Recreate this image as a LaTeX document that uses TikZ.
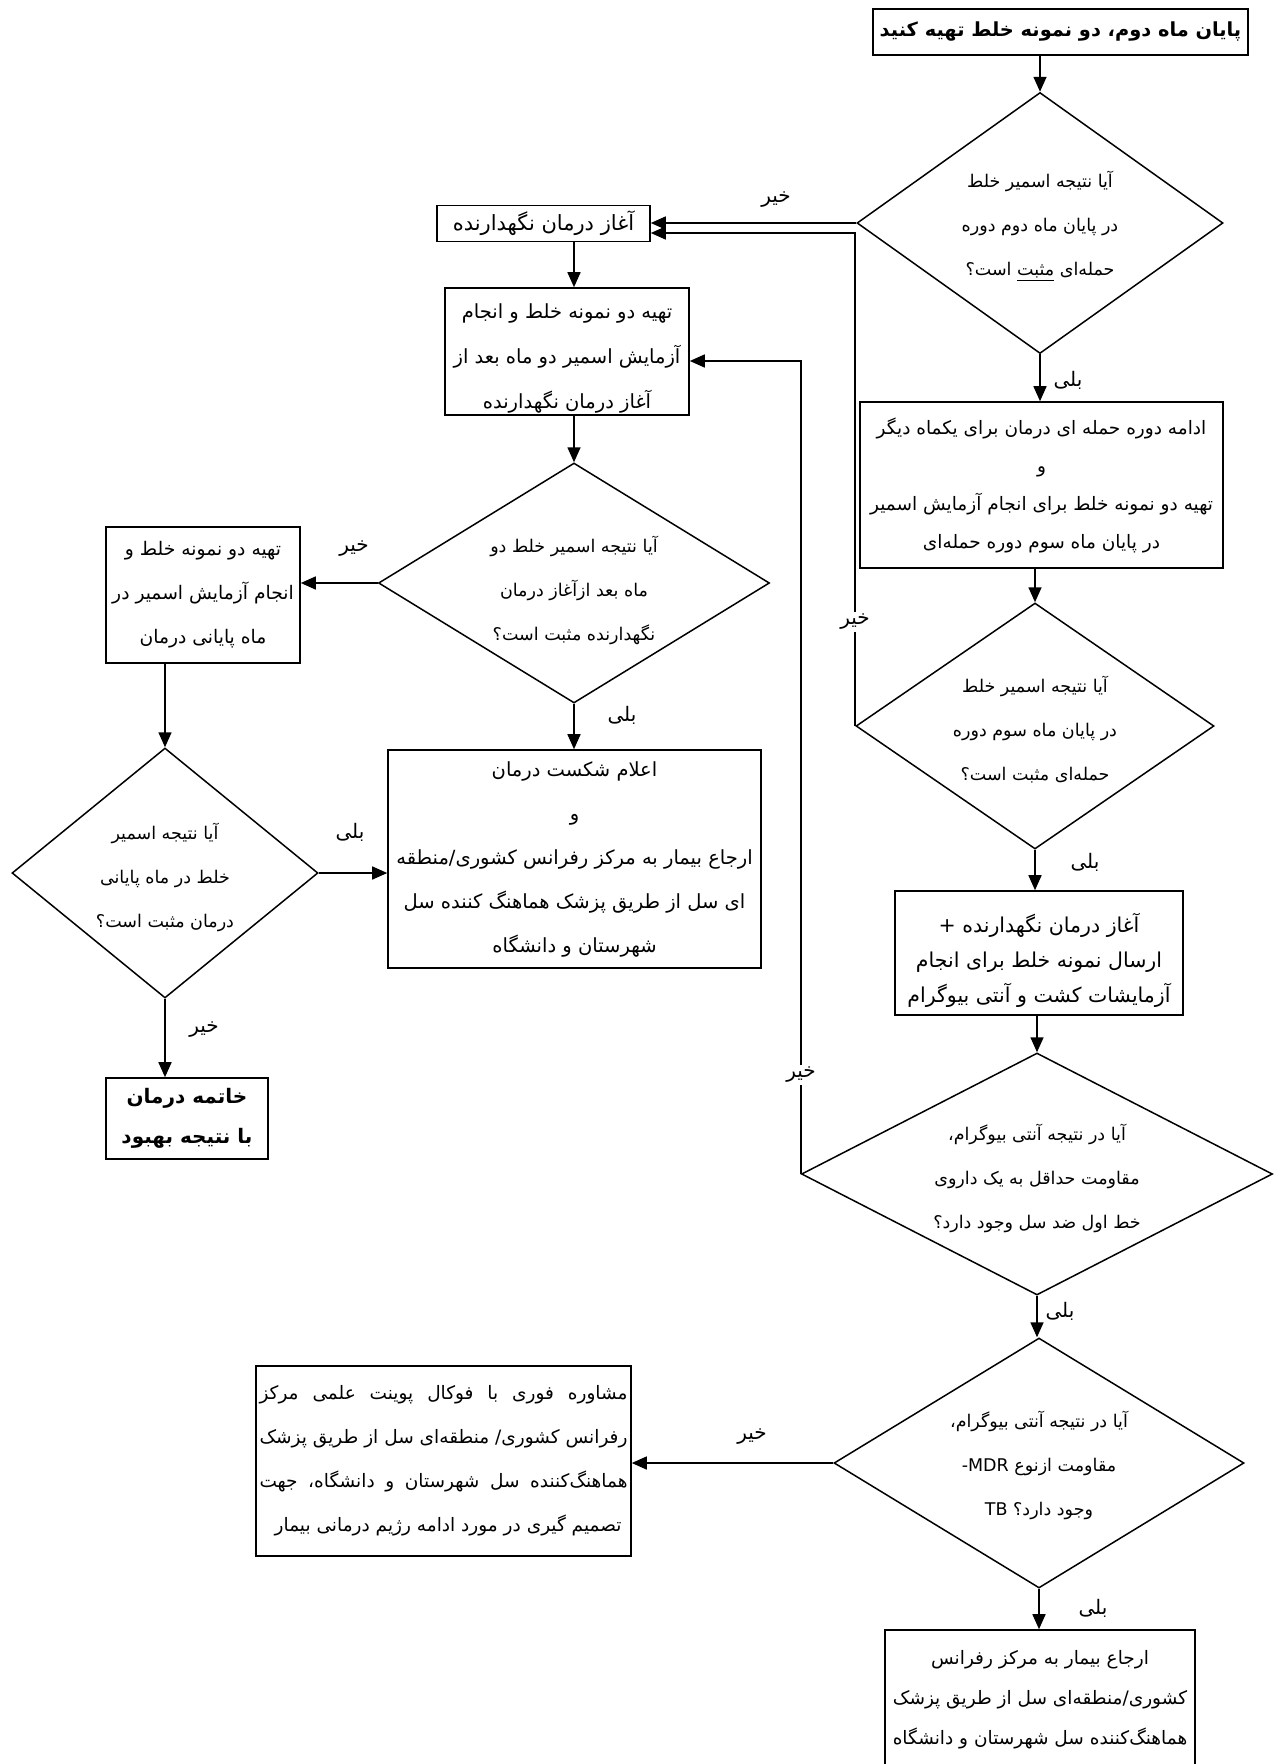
\documentclass[tikz,border=0pt]{standalone}
\usepackage{fontspec}
\setmainfont{DejaVu Sans}
\newfontfamily\arabicfont[Script=Arabic]{DejaVu Sans}
\usetikzlibrary{shapes.geometric,arrows.meta,calc}
\TeXXeTstate=1
\newcommand{\prs}[1]{\beginR #1\endR}
\newcommand{\zwnj}{\char"200C\relax}
\newcommand{\fsb}{\fontsize{19.5}{44}\selectfont}
\newcommand{\fsd}{\fontsize{17.5}{44}\selectfont}
\begin{document}
\begin{tikzpicture}[x=1pt,y=-1pt,
  every node/.style={font=\arabicfont\fsb},
  box/.style={draw,line width=1.6pt,rectangle,inner sep=0pt,align=center},
  dia/.style={draw,line width=1.5pt,diamond,inner sep=0pt},
  txt/.style={align=center,inner sep=0pt,font=\arabicfont\fsd},
  btxt/.style={align=center,inner sep=0pt},
  lbl/.style={inner sep=2pt,font=\arabicfont\fontsize{20}{22}\selectfont},
  wlbl/.style={lbl,fill=white},
  arr/.style={line width=1.6pt,-{Triangle[length=15pt,width=13pt]}}]
\useasboundingbox (0,0) rectangle (1274,1764);
\clip (0,0) rectangle (1274,1764);
\fill[white] (0,0) rectangle (1274,1764);

% nodes
\node[box,font=\arabicfont\bfseries\fontsize{19.4}{24}\selectfont,minimum width=375,minimum height=46] (t) at (1060.5,32) {\prs{پایان ماه دوم، دو نمونه خلط تهیه کنید}};

\node[dia,minimum width=366,minimum height=261] (d1) at (1040,223) {};
\node[txt] (d1t) at (1040,226) {\prs{آیا نتیجه اسمیر خلط}\\\prs{در پایان ماه دوم دوره}\\\prs{حمله\zwnj ای \underline{مثبت} است؟}};

\node[box,minimum width=213,minimum height=36,font=\arabicfont\fontsize{21}{44}\selectfont] (b2) at (543.5,223.5) {\prs{آغاز درمان نگهدارنده}};

\node[box,minimum width=244,minimum height=127] (b3) at (567,351.5) {};
\node[btxt,font=\arabicfont\fontsize{19.5}{45}\selectfont] (b3t) at (567,358) {\prs{تهیه دو نمونه خلط و انجام}\\\prs{آزمایش اسمیر دو ماه بعد از}\\\prs{آغاز درمان نگهدارنده}};

\node[dia,minimum width=391,minimum height=240] (d2) at (574,583) {};
\node[txt] (d2t) at (574,590) {\prs{آیا نتیجه اسمیر خلط دو}\\\prs{ماه بعد ازآغاز درمان}\\\prs{نگهدارنده مثبت است؟}};

\node[box,minimum width=363,minimum height=166,font=\arabicfont\fontsize{18.5}{38}\selectfont] (b4) at (1041.5,485) {\prs{ادامه دوره حمله ای درمان برای یکماه دیگر}\\\prs{و}\\\prs{تهیه دو نمونه خلط برای انجام آزمایش اسمیر}\\\prs{در پایان ماه سوم دوره حمله\zwnj ای}};

\node[dia,minimum width=358,minimum height=246] (d3) at (1035,726) {};
\node[txt] (d3t) at (1035,730) {\prs{آیا نتیجه اسمیر خلط}\\\prs{در پایان ماه سوم دوره}\\\prs{حمله\zwnj ای مثبت است؟}};

\node[box,minimum width=288,minimum height=124] (b5) at (1039,953) {};
\node[btxt,font=\arabicfont\fontsize{20.5}{35}\selectfont] (b5t) at (1039,960) {\prs{آغاز درمان نگهدارنده +}\\\prs{ارسال نمونه خلط برای انجام}\\\prs{آزمایشات کشت و آنتی بیوگرام}};

\node[dia,minimum width=471,minimum height=242] (d4) at (1037,1174) {};
\node[txt] (d4t) at (1037,1178) {\prs{آیا در نتیجه آنتی بیوگرام،}\\\prs{مقاومت حداقل به یک داروی}\\\prs{خط اول ضد سل وجود دارد؟}};

\node[dia,minimum width=410,minimum height=250] (d5) at (1039,1463) {};
\node[txt] (d5t) at (1039,1465) {\prs{آیا در نتیجه آنتی بیوگرام،}\\\prs{مقاومت ازنوع \beginL -MDR\endL}\\\prs{وجود دارد؟ \beginL TB\endL}};

\node[box,minimum width=375,minimum height=190,font=\arabicfont\fontsize{18.5}{44}\selectfont] (b7) at (443.5,1461) {%
\hbox to 368pt{\prs{مشاوره فوری با فوکال پوینت علمی مرکز}}\\
\hbox to 368pt{\prs{رفرانس کشوری/ منطقه\zwnj ای سل از طریق پزشک}}\\
\hbox to 368pt{\prs{هماهنگ\zwnj کننده سل شهرستان و دانشگاه، جهت}}\\
\hbox to 368pt{\hfill\prs{تصمیم گیری در مورد ادامه رژیم درمانی بیمار}\hskip 6pt}};

\node[box,minimum width=310,minimum height=140,font=\arabicfont\fontsize{18.5}{40}\selectfont] (b8) at (1040,1700) {\prs{ارجاع بیمار  به مرکز رفرانس}\\\prs{کشوری/منطقه\zwnj ای سل از طریق پزشک}\\\prs{هماهنگ\zwnj کننده سل شهرستان و دانشگاه}};

\node[box,minimum width=194,minimum height=136,font=\arabicfont\fontsize{18.7}{44}\selectfont] (b6) at (203,595) {\prs{تهیه دو نمونه خلط و}\\\prs{انجام آزمایش اسمیر در}\\\prs{ماه پایانی درمان}};

\node[dia,minimum width=306,minimum height=250] (d6) at (165,873) {};
\node[txt] (d6t) at (165,877) {\prs{آیا نتیجه اسمیر}\\\prs{خلط در ماه پایانی}\\\prs{درمان مثبت است؟}};

\node[box,minimum width=373,minimum height=218] (b9) at (574.5,859) {\prs{اعلام شکست درمان}\\\prs{و}\\\prs{ارجاع بیمار به مرکز رفرانس کشوری/منطقه}\\\prs{ای سل از طریق پزشک هماهنگ کننده سل}\\\prs{شهرستان و دانشگاه}};

\node[box,minimum width=162,minimum height=81,font=\arabicfont\bfseries\fontsize{20}{40}\selectfont] (b10) at (187,1118.5) {\prs{خاتمه درمان}\\\prs{با نتیجه بهبود}};

% connectors
\draw[arr] (t.south -| d1.north) -- (d1.north);
\draw[arr] (d1.west) -- (d1.west -| b2.east);
\coordinate (b2in) at ($(b2.east)+(0,9.5)$);
\draw[arr] (d3.west) |- (b2in);
\draw[arr] (b2.south -| d2.north) -- (b3.north -| d2.north);
\coordinate (b3in) at ($(b3.east)+(0,9.5)$);
\draw[arr] (d4.west) |- (b3in);
\draw[arr] (b3.south -| d2.north) -- (d2.north);
\draw[arr] (d1.south) -- (b4.north -| d1.south);
\draw[arr] (b4.south -| d3.north) -- (d3.north);
\draw[arr] (d3.south) -- (b5.north -| d3.south);
\draw[arr] (b5.south -| d4.north) -- (d4.north);
\draw[arr] (d4.south) -- (d4.south |- d5.north);
\draw[arr] (d5.west) -- (d5.west -| b7.east);
\draw[arr] (d5.south) -- (b8.north -| d5.south);
\draw[arr] (d2.west) -- (d2.west -| b6.east);
\draw[arr] (d2.south) -- (b9.north -| d2.south);
\draw[arr] (b6.south -| d6.north) -- (d6.north);
\draw[arr] (d6.east) -- (d6.east -| b9.west);
\draw[arr] (d6.south) -- (b10.north -| d6.south);

% labels
\node[lbl] (l1) at (776,200) {\prs{خیر}};
\node[lbl] (l2) at (1068,380) {\prs{بلی}};
\node[wlbl] (l3) at (855,622) {\prs{خیر}};
\node[lbl] (l4) at (1085,862) {\prs{بلی}};
\node[wlbl] (l5) at (801,1075) {\prs{خیر}};
\node[lbl] (l6) at (1060,1311) {\prs{بلی}};
\node[lbl] (l7) at (752,1437) {\prs{خیر}};
\node[lbl] (l8) at (1093,1608) {\prs{بلی}};
\node[lbl] (l9) at (354,549) {\prs{خیر}};
\node[lbl] (l10) at (622,715) {\prs{بلی}};
\node[lbl] (l11) at (350,832) {\prs{بلی}};
\node[lbl] (l12) at (204,1030) {\prs{خیر}};
\end{tikzpicture}
\end{document}
